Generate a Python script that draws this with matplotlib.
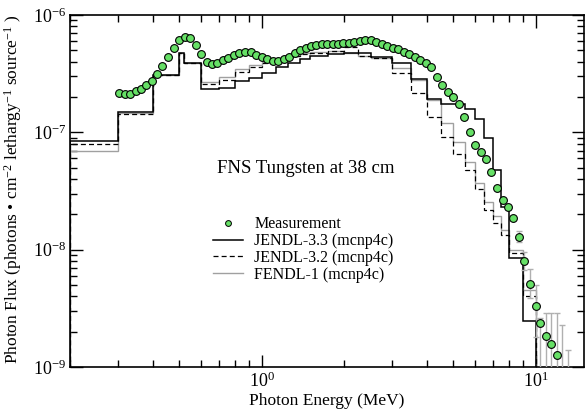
import matplotlib
matplotlib.use("Agg")
import matplotlib.pyplot as plt
import numpy as np
from matplotlib.ticker import FixedLocator, LogLocator, NullFormatter, LogFormatterMathtext
from matplotlib.lines import Line2D

plt.rcParams['font.family'] = ['Liberation Serif', 'DejaVu Serif']
plt.rcParams['mathtext.fontset'] = 'custom'
plt.rcParams['mathtext.rm'] = 'Liberation Serif'
plt.rcParams['mathtext.it'] = 'Liberation Serif:italic'
plt.rcParams['mathtext.bf'] = 'Liberation Serif:bold'

# ---------------- data ----------------
meas_energy = [0.3006, 0.3162, 0.3307, 0.3467, 0.3626, 0.3795, 0.3967, 0.4148, 0.4342, 0.4565,
               0.4786, 0.4990, 0.5236, 0.5473, 0.5742, 0.6025, 0.6316, 0.6586, 0.6894, 0.7205,
               0.7558, 0.7921, 0.8291, 0.8692, 0.9118, 0.9565, 1.0025, 1.049, 1.100, 1.147,
               1.203, 1.258, 1.320, 1.384, 1.447, 1.513, 1.583, 1.660, 1.737, 1.816,
               1.899, 1.987, 2.077, 2.176, 2.279, 2.390, 2.499, 2.622, 2.749, 2.876,
               3.015, 3.144, 3.298, 3.449, 3.618, 3.795, 3.967, 4.149, 4.352, 4.565,
               4.786, 4.991, 5.236, 5.461, 5.742, 6.026, 6.300, 6.607, 6.868, 7.224,
               7.578, 7.923, 8.289, 8.692, 9.066, 9.508, 10.0, 10.40, 10.90, 11.41, 11.96]
meas_flux = [2.163e-7, 2.121e-7, 2.121e-7, 2.236e-7, 2.353e-7, 2.530e-7, 2.737e-7, 3.122e-7, 3.674e-7, 4.410e-7,
             5.262e-7, 6.085e-7, 6.531e-7, 6.329e-7, 5.516e-7, 4.624e-7, 3.998e-7, 3.822e-7, 3.921e-7, 4.110e-7,
             4.325e-7, 4.560e-7, 4.743e-7, 4.837e-7, 4.809e-7, 4.587e-7, 4.384e-7, 4.215e-7, 4.077e-7, 4.053e-7,
             4.190e-7, 4.410e-7, 4.771e-7, 5.030e-7, 5.262e-7, 5.441e-7, 5.548e-7, 5.625e-7, 5.658e-7, 5.692e-7,
             5.692e-7, 5.805e-7, 5.805e-7, 5.920e-7, 6.002e-7, 6.121e-7, 6.121e-7, 5.885e-7, 5.658e-7, 5.472e-7,
             5.262e-7, 5.100e-7, 4.837e-7, 4.624e-7, 4.410e-7, 4.134e-7, 3.875e-7, 3.581e-7, 2.944e-7, 2.530e-7,
             2.219e-7, 2.011e-7, 1.733e-7, 1.342e-7, 1.006e-7, 7.791e-8, 6.792e-8, 5.886e-8, 4.587e-8, 3.350e-8,
             2.648e-8, 2.294e-8, 1.848e-8, 1.293e-8, 8.07e-9, 5.06e-9, 3.34e-9, 2.353e-9, 1.845e-9, 1.568e-9, 1.256e-9]

# measurement error bars (lower / upper bounds) where visible
err_energy = [8.692, 9.066, 9.508, 10.0, 10.40, 10.90, 11.41, 11.96, 12.52, 13.14]
err_low = [1.168e-8, 6.70e-9, 3.84e-9, 1.81e-9, 5e-10, 5e-10, 5e-10, 5e-10, 5e-10, 5e-10]
err_high = [1.449e-8, 9.60e-9, 6.79e-9, 4.99e-9, 2.6e-9, 2.86e-9, 2.86e-9, 2.86e-9, 2.28e-9, 1.39e-9]

# calculation group structure (MeV)
bin_edges = [0.2, 0.3, 0.4, 0.5, 0.52, 0.6, 0.7, 0.8, 0.9, 1.0, 1.125, 1.25, 1.375, 1.5,
             1.75, 2.0, 2.25, 2.5, 3.0, 3.5, 4.0, 4.5, 5.0, 5.5, 6.0, 6.5, 7.0, 7.5, 8.0, 9.0, 10.0]

jendl33 = [8.48e-8, 1.481e-7, 3.11e-7, 4.72e-7, 3.90e-7, 2.33e-7, 2.37e-7, 2.76e-7, 2.92e-7, 3.20e-7,
           3.57e-7, 3.90e-7, 4.22e-7, 4.47e-7, 4.65e-7, 4.79e-7, 4.74e-7, 4.41e-7, 3.88e-7, 2.83e-7,
           1.91e-7, 1.73e-7, 1.73e-7, 1.57e-7, 1.30e-7, 8.89e-8, 4.77e-8, 2.31e-8, 8.48e-9, 2.46e-9]
jendl32 = [7.90e-8, 1.441e-7, 3.11e-7, 4.72e-7, 3.90e-7, 2.60e-7, 2.79e-7, 3.27e-7, 3.60e-7, 3.92e-7,
           4.17e-7, 4.43e-7, 4.65e-7, 4.79e-7, 4.93e-7, 5.37e-7, 4.47e-7, 4.27e-7, 3.22e-7, 2.18e-7,
           1.34e-7, 9.12e-8, 6.60e-8, 4.77e-8, 3.29e-8, 2.18e-8, 1.68e-8, 1.33e-8, 9.35e-9, 4.02e-9]
fendl1 = [6.93e-8, 1.461e-7, 3.11e-7, 4.72e-7, 3.90e-7, 2.66e-7, 2.98e-7, 3.46e-7, 3.75e-7, 4.00e-7,
          4.19e-7, 4.47e-7, 4.70e-7, 4.84e-7, 4.89e-7, 4.72e-7, 4.47e-7, 4.26e-7, 3.51e-7, 2.79e-7,
          1.87e-7, 1.20e-7, 8.31e-8, 5.62e-8, 3.67e-8, 2.56e-8, 1.93e-8, 1.47e-8, 9.92e-9, 4.52e-9]

labels = ["Measurement", "JENDL-3.3 (mcnp4c)", "JENDL-3.2 (mcnp4c)", "FENDL-1 (mcnp4c)"]
x_major = [1.0, 10.0]
y_major = [1e-9, 1e-8, 1e-7, 1e-6]

# ---------------- plot ----------------
fig = plt.figure(figsize=(5.87, 4.17), dpi=100)
ax = fig.add_axes([0.1193, 0.1199, 0.8756, 0.8441])
ax.set_xscale('log')
ax.set_yscale('log')
ax.set_xlim(0.2, 15)
ax.set_ylim(1e-9, 1e-6)

base = 1e-12
dash = (0, (4, 2.5))
ax.stairs(fendl1, bin_edges, baseline=base, color='#a0a0a0', lw=1.0, zorder=2)
ax.stairs(jendl32, bin_edges, baseline=base, color='black', lw=0.9, ls=dash, zorder=3)
ax.stairs(jendl33, bin_edges, baseline=base, color='black', lw=1.1, zorder=4)

elo = np.array(err_low)
ehi = np.array(err_high)
emid = np.sqrt(elo * ehi)
ax.errorbar(err_energy, emid, yerr=[emid - elo, ehi - emid], fmt='none',
            ecolor='#b0b0b0', elinewidth=1.0, capsize=2.5, capthick=1.0, zorder=5)

ax.plot(meas_energy, meas_flux, 'o', ms=5.6, mfc='#66e066', mec='black', mew=0.8, zorder=6)

handles = [Line2D([], [], marker='o', ls='none', ms=4.2, mfc='#66e066', mec='black', mew=0.7),
           Line2D([], [], color='black', lw=1.1),
           Line2D([], [], color='black', lw=0.9, ls=dash),
           Line2D([], [], color='#a0a0a0', lw=1.0)]
ax.legend(handles, labels, loc='upper left', bbox_to_anchor=(0.278, 0.428),
          frameon=False, fontsize=11.5, handlelength=1.9, handletextpad=0.7,
          labelspacing=0.05, borderaxespad=0, borderpad=0)

ax.text(0.285, 0.565, "FNS Tungsten at 38 cm", transform=ax.transAxes, fontsize=13.5,
        ha='left', va='center')

ax.set_xlabel("Photon Energy (MeV)", fontsize=12.5)
ax.xaxis.set_label_coords(0.5, -0.075)
ax.set_ylabel("Photon Flux (photons \u2022 cm$^{-2}$ lethargy$^{-1}$ source$^{-1}$ )",
              fontsize=12.5)
ax.yaxis.set_label_coords(-0.09, 0.505)

ax.xaxis.set_major_locator(FixedLocator(x_major))
ax.xaxis.set_major_formatter(LogFormatterMathtext())
ax.xaxis.set_minor_locator(LogLocator(base=10, subs=np.arange(2, 10), numticks=20))
ax.xaxis.set_minor_formatter(NullFormatter())
ax.yaxis.set_major_locator(FixedLocator(y_major))
ax.yaxis.set_major_formatter(LogFormatterMathtext())
ax.yaxis.set_minor_locator(LogLocator(base=10, subs=np.arange(2, 10), numticks=20))
ax.yaxis.set_minor_formatter(NullFormatter())
ax.tick_params(which='both', direction='in', top=True, right=True, labelsize=13, pad=3)
ax.tick_params(which='major', length=9, width=1.0)
ax.tick_params(which='minor', length=5, width=1.0)
for s in ax.spines.values():
    s.set_linewidth(1.2)

fig.savefig("out.png", dpi=100)
